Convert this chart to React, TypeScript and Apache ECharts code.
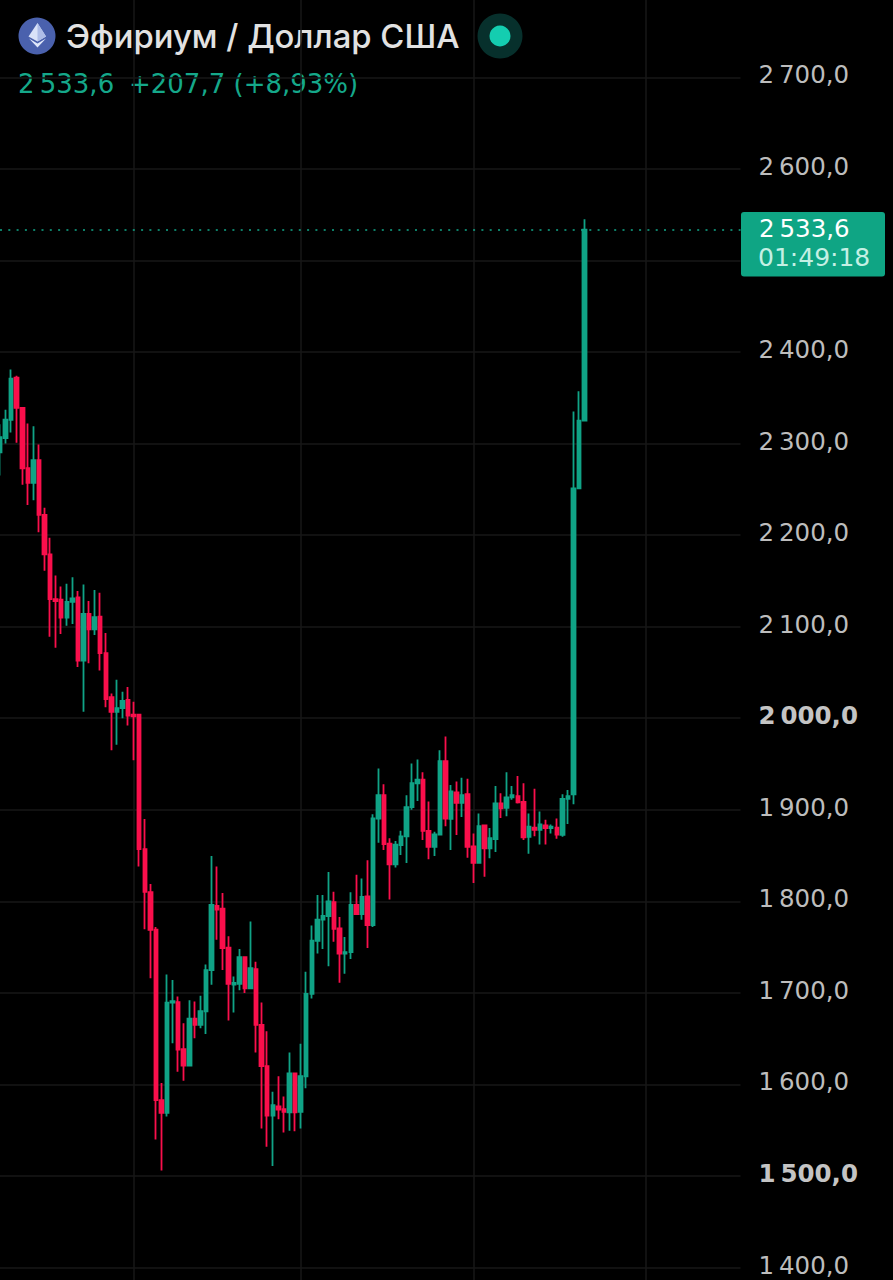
import React, { useEffect, useRef } from "react";
import * as echarts from "echarts";

const opens = [2290.5,2306,2326,2372,2339,2273,2257,2282,2222,2179,2130,2129.5,2110,2127,2132,2063,2114,2097,2111,2071,2023,2007,2011,2020,2004,2004,1857,1810,1769,1583,1569,1689.5,1690,1638.5,1620.5,1672,1665,1680,1725,1795,1792,1749.5,1709,1710,1739,1705,1726,1665,1620,1566,1576,1573,1569.5,1612,1570,1609,1699,1757,1780,1784,1799,1770.5,1743,1744.5,1796,1786,1805.5,1774,1890.5,1916,1863,1840.5,1861.5,1871,1903,1929,1933,1877,1859.5,1873,1953,1890,1919,1907.5,1917,1860,1842,1883,1858,1868,1907,1902,1913.5,1915,1908.5,1870.5,1880.5,1878,1883,1880,1880.5,1872.5,1912,1917,2251,2325];
const closes = [2307,2326,2371,2339,2273,2257,2282,2222,2179,2130,2128,2110,2127,2131,2063,2114,2097,2110.5,2071,2021,2007,2011,2019,2003,2002,1857,1810.5,1769,1583,1569,1689.5,1691,1638,1620.5,1672,1665,1680,1725,1796,1791,1749,1710,1711,1739,1705,1727,1665,1620,1566,1577.5,1572.5,1570,1612,1569.5,1609,1699,1757,1780,1784,1800,1770,1743,1744.5,1796,1786,1805,1774,1890.5,1916,1862.5,1840.5,1862,1871,1903,1929,1933,1877,1859.5,1873,1953,1890.5,1920,1907.5,1916,1859.5,1842,1882,1858,1869,1907,1901.5,1913.5,1916,1908,1870,1881.5,1878,1884,1880,1881.5,1873,1912,1915,2251,2325,2533.6];
const highs = [2321,2337,2381,2374,2340,2322,2319,2299,2230,2197,2156,2144,2147,2154,2139,2146,2128,2140,2137,2093,2027,2042,2029,2034,2018,2005,1890,1819,1772,1601.5,1720,1714,1696,1667,1692,1690.5,1697,1731,1849.5,1838,1809,1762,1718,1748,1740,1778,1734,1689.5,1658,1592,1609,1587,1635,1613,1644.5,1723,1773.5,1807,1807,1832,1810.5,1783,1761,1810,1829,1825,1845,1895,1945,1928,1869,1866,1877,1916,1950.5,1955,1941,1909,1876,1965,1980,1927,1931,1935,1934,1874,1896,1884,1880,1926,1918,1941,1926,1937,1929,1896,1923,1898,1889,1884,1890.5,1917,1921.5,2335,2357,2545];
const lows = [2265,2300,2312,2301,2255,2233,2238,2203,2161,2089,2077,2092,2101,2103,2056,2007,2060,2091,2052,2012,1965,1971,2000,1992,1954,1838,1769.5,1716,1540,1506,1565,1645,1614,1604,1620,1650.5,1661.5,1655,1709,1758,1725,1670,1678.5,1703,1700,1704.5,1635,1552,1532,1511,1562,1547.5,1549.5,1549,1552,1596,1694,1743,1748,1729,1756,1711,1721,1737,1785.5,1780,1749,1772,1864,1856,1802,1837,1850.5,1842,1900,1909.5,1867,1846,1849.5,1872.5,1882,1856,1872.5,1892,1847.5,1820,1842,1827,1847,1854,1891,1893,1911,1907,1867,1852,1871,1862,1862,1874,1868.5,1870.5,1884.5,1906,2250,2324];
const slotCount = 134;
const gridLineSlots = [24, 54, 85, 116];
const lastPrice = 2533.6;
const boldTicks = [2000, 1500];
const hiddenTicks = [2500];
const headerTitle = "Эфириум / Доллар США";
const headerPrice = "2\u2009533,6";
const headerChange = "+207,7 (+8,93%)";
const countdown = "01:49:18";

const UP = "#10a386";
const DOWN = "#fa0f4c";
const GRID = "#171717";
const NUM_FONT = "DejaVu Sans";

const fmt = (v: number) => {
  const s = v.toFixed(1).replace(".", ",");
  return s[0] + "\u2009" + s.slice(1);
};

export default function App() {
  const ref = useRef<HTMLDivElement>(null);
  useEffect(() => {
    document.body.style.margin = "0";
    document.body.style.background = "#000";
    const chart = echarts.init(ref.current!, undefined, { renderer: "svg" });
    const categories = Array.from({ length: slotCount }, (_, i) => String(i));
    const data = opens.map((o, i) => [o, closes[i], lows[i], highs[i]]);
    chart.setOption({
      animation: false,
      backgroundColor: "#000",
      grid: [
        { left: 0, width: 740.5, top: 77.3, height: 1190.3 },
        { left: 0, width: 740.5, top: 0, height: 1280 },
      ],
      xAxis: [
        {
          type: "category",
          gridIndex: 0,
          data: categories,
          boundaryGap: false,
          axisLine: { show: false },
          axisTick: { show: false },
          axisLabel: { show: false },
          splitLine: { show: false },
        },
        {
          type: "category",
          gridIndex: 1,
          data: categories,
          boundaryGap: false,
          axisLine: { show: false },
          axisTick: { show: false },
          axisLabel: { show: false },
          splitLine: {
            show: true,
            interval: (i: number) => gridLineSlots.includes(i),
            lineStyle: { color: GRID, width: 1.5 },
          },
        },
      ],
      yAxis: [
        {
          type: "value",
          gridIndex: 0,
          position: "right",
          min: 1400,
          max: 2700,
          interval: 100,
          axisLine: { show: false },
          axisTick: { show: false },
          splitLine: { show: true, lineStyle: { color: GRID, width: 1.5 } },
          axisLabel: {
            margin: 18,
            align: "left",
            fontFamily: NUM_FONT,
            fontSize: 24.5,
            color: "#bdbdbd",
            padding: [0, 0, 5, 0],
            showMinLabel: true,
            showMaxLabel: true,
            formatter: (v: number) => {
              if (hiddenTicks.includes(v)) return "";
              return boldTicks.includes(v) ? `{b|${fmt(v)}}` : fmt(v);
            },
            rich: { b: { fontFamily: NUM_FONT, fontSize: 24.5, fontWeight: 700, color: "#c4c4c4" } },
          },
        },
        { type: "value", gridIndex: 1, show: false, min: 0, max: 1, splitLine: { show: false } },
      ],
      series: [
        {
          type: "candlestick",
          xAxisIndex: 0,
          yAxisIndex: 0,
          data,
          barWidth: 4,
          itemStyle: { color: UP, borderColor: UP, color0: DOWN, borderColor0: DOWN, borderWidth: 1.8 },
          markLine: {
            silent: true,
            symbol: "none",
            label: { show: false },
            lineStyle: { color: "#12a98a", type: [2, 6.3], width: 1.5 },
            data: [{ yAxis: lastPrice }],
          },
        },
      ],
      graphic: [
        { type: "circle", shape: { cx: 37, cy: 36, r: 18.5 }, style: { fill: "#4a61ad" } },
        { type: "polygon", shape: { points: [[37.5, 23], [28.5, 36.5], [37.5, 41.5], [46, 36.5]] }, style: { fill: "#d9e2f8" } },
        { type: "polygon", shape: { points: [[37.5, 23], [37.5, 41.5], [46, 36.5]] }, style: { fill: "#aebde8" } },
        { type: "polygon", shape: { points: [[29, 38.5], [37.5, 47.5], [46, 38.5], [37.5, 43.5]] }, style: { fill: "#dfe7fa" } },
        { type: "text", x: 66, y: 36, style: { text: headerTitle, fontFamily: "Inter", fontSize: 32.8, fontWeight: 500, fill: "#e2e2e2", align: "left", verticalAlign: "middle" } },
        { type: "circle", shape: { cx: 500, cy: 36, r: 22.5 }, style: { fill: "#07302c" } },
        { type: "circle", shape: { cx: 500, cy: 36, r: 10.5 }, style: { fill: "#14cdb0" } },
        { type: "text", x: 18, y: 84, style: { text: headerPrice, fontFamily: NUM_FONT, fontSize: 26, fill: "#15a88a", align: "left", verticalAlign: "middle" } },
        { type: "text", x: 129, y: 84, style: { text: headerChange, fontFamily: NUM_FONT, fontSize: 26, fill: "#15a88a", align: "left", verticalAlign: "middle" } },
        { type: "rect", shape: { x: 741, y: 212, width: 144, height: 64.5, r: 3 }, style: { fill: "#0fa584" } },
        { type: "text", x: 759, y: 228, style: { text: headerPrice, fontFamily: NUM_FONT, fontSize: 24.5, fill: "#ffffff", align: "left", verticalAlign: "middle" } },
        { type: "text", x: 758, y: 257, style: { text: countdown, fontFamily: NUM_FONT, fontSize: 25, fill: "#c4f0e4", align: "left", verticalAlign: "middle" } },
      ],
    });
    return () => chart.dispose();
  }, []);
  return <div ref={ref} style={{ width: 893, height: 1280 }} />;
}
